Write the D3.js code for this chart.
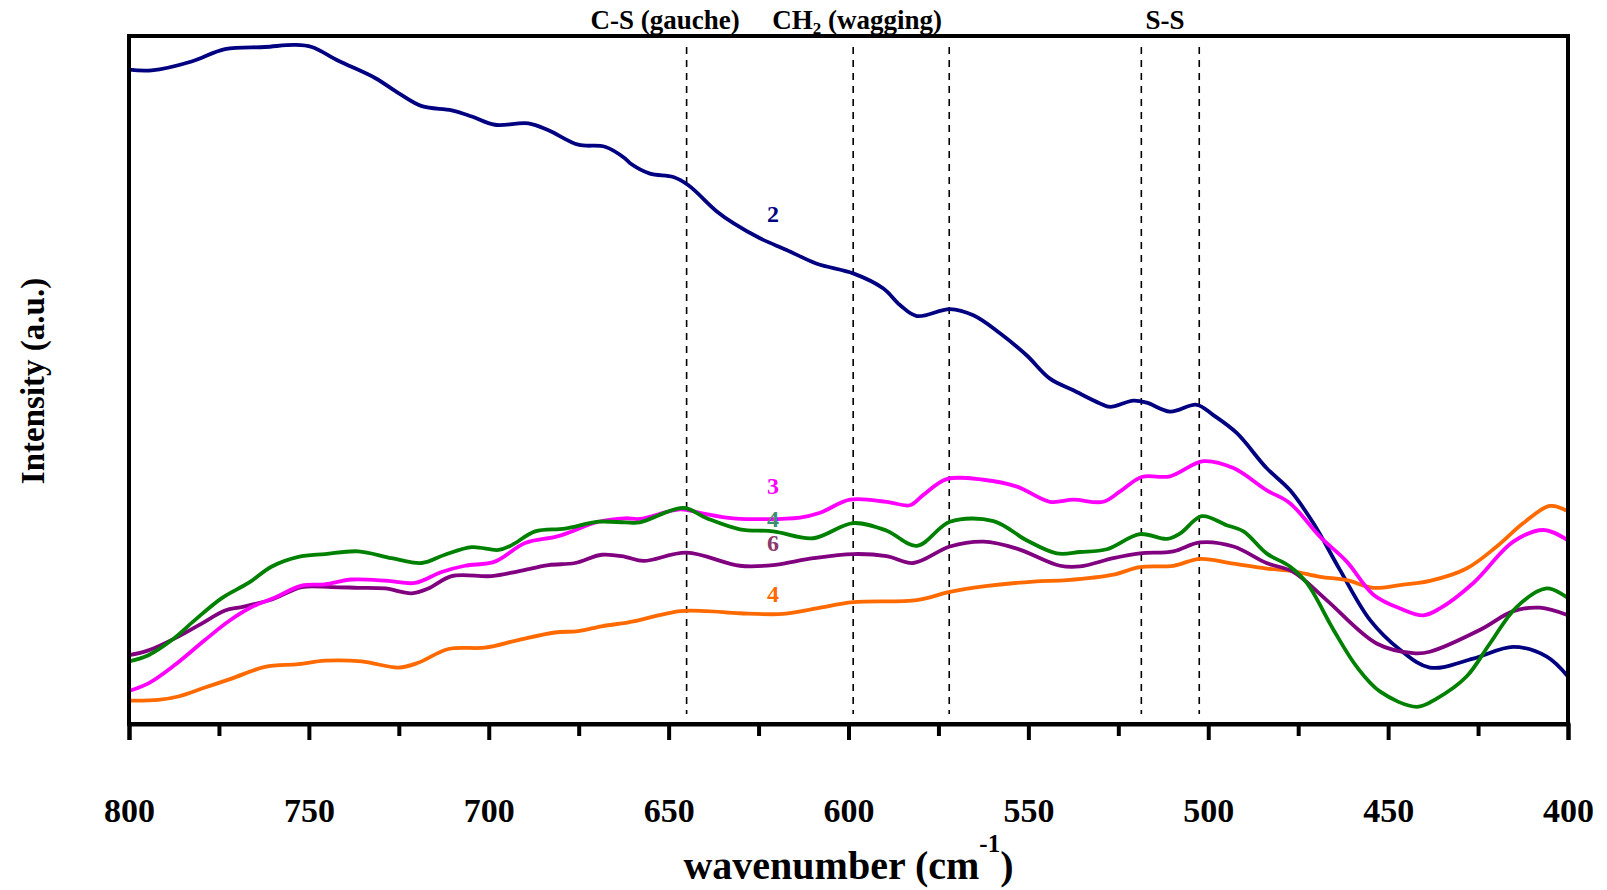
<!DOCTYPE html>
<html>
<head>
<meta charset="utf-8">
<script src="https://cdn.jsdelivr.net/npm/d3@7/dist/d3.min.js"></script>
<style>
  html, body { margin: 0; padding: 0; background: #fff; }
  svg { display: block; }
  text { font-family: "Liberation Serif", "Times New Roman", serif; font-weight: bold; }
</style>
</head>
<body>
<svg id="chart" width="1607" height="890"></svg>
<script>
// ---------------- DATA ----------------
// wavenumber (cm-1) and intensity (a.u., arbitrary 0-100 scale)
const s2_wn = [800,793.7,782.6,773.3,762.2,753.9,749.2,741.8,731.6,725.1,718.6,710.3,704.7,698.3,689.0,683.4,675.1,667.7,662.1,660.7,655.2,648.7,644.5,636.6,632.0,624.6,617.2,608.8,598.7,590.3,585.7,581.0,571.8,565.3,557.9,550.5,544.0,537.5,530.1,527.3,520.8,517.1,510.6,503.2,498.6,492.1,483.8,477.3,470.8,463.4,455.0,446.7,438.4,426.3,415.2,405.9,400];
const s2_int = [95.1,95.0,96.3,98.1,98.4,98.7,98.4,96.4,93.9,91.7,89.8,89.2,88.3,87.1,87.3,86.3,84.2,83.9,82.2,81.5,80.0,79.5,78.3,74.5,72.8,70.6,68.9,66.9,65.5,63.3,60.9,59.3,60.3,59.4,56.8,53.6,50.2,48.5,46.6,46.1,47.0,46.7,45.4,46.4,44.9,42.3,37.2,34.0,29.2,22.4,15.1,10.8,8.2,9.5,11.2,9.8,6.9];

const s3_wn = [800,794.6,787.2,778.9,772.4,765.9,759.4,752.0,745.5,738.1,727.9,720.5,713.1,706.6,698.3,689.9,680.7,669.5,662.1,658.0,646.8,641.3,632.0,613.5,607.9,599.6,589.4,582.9,579.2,572.7,562.5,553.2,544.0,537.5,529.2,524.5,518.5,510.6,501.4,493.0,483.8,477.3,468.9,461.5,454.1,446.7,440.2,435.6,426.3,415.2,406.8,400];
const s3_int = [4.8,5.9,8.6,12.2,14.9,17.0,18.4,20.1,20.3,21.0,20.8,20.5,22.1,23.0,23.6,26.3,27.3,29.4,29.9,29.8,31.2,30.7,29.9,30.0,30.7,32.6,32.3,31.8,33.3,35.6,35.5,34.5,32.3,32.6,32.3,33.8,35.9,36.0,38.2,37.2,34.0,32.1,27.2,23.6,18.8,16.8,15.8,16.8,20.5,26.5,28.2,26.7];

const s4g_wn = [800,794.6,788.1,781.7,774.2,766.8,760.3,752.9,745.5,736.3,727.0,718.6,712.2,704.7,697.3,693.6,687.1,678.8,669.5,662.1,658.0,645.9,639.4,630.2,620.9,609.8,598.7,589.4,581.0,571.8,559.7,550.5,542.1,535.6,528.2,519.0,511.5,507.8,501.8,494.9,490.2,483.8,477.3,472.6,465.2,458.7,452.2,442.0,436.5,428.2,421.7,414.3,405.9,400];
const s4g_int = [9.1,10.0,12.2,15.1,18.3,20.5,22.9,24.3,24.7,25.1,24.1,23.4,24.6,25.7,25.3,26.0,28.0,28.4,29.4,29.3,29.3,31.4,29.9,28.3,28.0,27.0,29.2,28.1,25.9,29.4,29.5,26.7,24.8,25.0,25.4,27.6,26.9,27.7,30.2,28.9,28.0,24.8,22.9,20.5,13.7,8.3,4.7,2.5,3.7,6.9,11.7,17.0,19.7,18.3];

const s6_wn = [800,794.6,786.3,779.8,773.3,768.7,760.3,752.0,743.7,736.3,728.8,721.4,716.8,710.3,699.2,691.8,683.4,676.0,668.6,662.1,657.0,645.0,630.2,620.9,609.8,598.7,589.4,582.0,571.8,562.5,553.2,541.2,535.6,526.4,519.0,509.7,502.3,493.0,483.8,476.4,467.1,453.2,443.0,438.4,424.4,415.2,407.8,400];
const s6_int = [10.0,10.7,12.7,14.6,16.5,17.0,18.1,19.9,19.9,19.8,19.7,19.0,19.7,21.5,21.5,22.2,23.1,23.4,24.6,24.3,23.7,24.9,23.0,23.1,24.1,24.7,24.4,23.4,25.8,26.5,25.5,23.0,22.9,24.1,24.8,25.1,26.4,25.8,23.4,22.1,18.0,11.7,10.3,10.5,13.7,16.4,16.9,15.8];

const s4o_wn = [800,791.9,786.3,778.9,771.5,762.2,752.9,745.5,735.3,725.1,719.6,711.2,701.0,691.8,681.6,675.1,668.6,662.1,659.8,646.8,639.4,630.2,618.1,608.8,598.7,581.0,571.8,562.5,548.6,539.3,526.4,519.0,509.7,502.3,493.0,483.8,476.4,468.9,461.5,454.1,446.7,438.4,428.2,419.8,412.4,405.0,400];
const s4o_int = [3.4,3.5,4.0,5.3,6.6,8.3,8.7,9.2,9.1,8.2,8.9,10.9,11.1,12.2,13.3,13.5,14.2,14.7,14.9,16.4,16.4,16.1,16.0,16.8,17.7,18.0,19.2,20.0,20.7,20.9,21.7,22.8,23.0,24.0,23.3,22.6,22.2,21.4,20.9,19.8,20.2,20.8,22.6,25.8,29.2,31.7,30.9];

const seriesNames  = ["2", "3", "4", "6", "4"];
const seriesColors = ["#000080", "#ff00ff", "#008000", "#800080", "#ff6a00"];
const labelColors  = ["#000080", "#ff00ff", "#3a9070", "#8b3a6b", "#ff6a00"];
const labelWn  = [621, 621, 621, 621, 621];
const labelInt = [74.2, 34.6, 29.8, 26.3, 18.9];

const bandPositions = [645, 598.7, 572, 518.6, 502.5];
const bandLabels = ["C-S (gauche)", "CH|2| (wagging)", "S-S"];
const bandLabelWn = [651, 597.6, 512];

const xMajorTicks = [800, 750, 700, 650, 600, 550, 500, 450, 400];
const xMinorTicks = [775, 725, 675, 625, 575, 525, 475, 425];

// ---------------- LAYOUT ----------------
const margin = {left: 129, top: 36, right: 1607 - 1568, bottom: 890 - 724};
const W = 1607, H = 890;
const iw = W - margin.left - margin.right;
const ih = H - margin.top - margin.bottom;

const svg = d3.select("#chart");
const g = svg.append("g").attr("transform", `translate(${margin.left},${margin.top})`);

const x = d3.scaleLinear().domain([800, 400]).range([0, iw]);
const y = d3.scaleLinear().domain([0, 100]).range([ih, 0]);

// dashed band lines
g.selectAll("line.band").data(bandPositions).enter().append("line")
  .attr("class", "band")
  .attr("x1", d => x(d)).attr("x2", d => x(d))
  .attr("y1", 11).attr("y2", ih - 10)
  .attr("stroke", "#000").attr("stroke-width", 1.6)
  .attr("stroke-dasharray", "7,6");

// curves
const seriesData = [
  d3.zip(s2_wn, s2_int),
  d3.zip(s3_wn, s3_int),
  d3.zip(s4g_wn, s4g_int),
  d3.zip(s6_wn, s6_int),
  d3.zip(s4o_wn, s4o_int)
];
const line = d3.line()
  .x(d => x(d[0])).y(d => y(d[1]))
  .curve(d3.curveCatmullRom.alpha(0.5));

const drawOrder = [0, 4, 3, 1, 2];
drawOrder.forEach(i => {
  g.append("path")
    .datum(seriesData[i])
    .attr("fill", "none")
    .attr("stroke", seriesColors[i])
    .attr("stroke-width", 3.8)
    .attr("stroke-linejoin", "round")
    .attr("stroke-linecap", "round")
    .attr("d", line);
});

// series labels
seriesNames.forEach((n, i) => {
  g.append("text")
    .attr("x", x(labelWn[i])).attr("y", y(labelInt[i]))
    .attr("text-anchor", "middle")
    .attr("dominant-baseline", "central")
    .attr("font-size", 24)
    .attr("fill", labelColors[i])
    .text(n);
});

// frame
g.append("rect")
  .attr("x", 0).attr("y", 0).attr("width", iw).attr("height", ih)
  .attr("fill", "none").attr("stroke", "#000").attr("stroke-width", 4);

// x axis
const xAxis = d3.axisBottom(x).tickValues(xMajorTicks).tickSize(16).tickPadding(58).tickFormat(d3.format("d"));
const ax = g.append("g").attr("transform", `translate(0,${ih})`).call(xAxis);
ax.select(".domain").attr("stroke-width", 4);
ax.selectAll(".tick line").attr("stroke-width", 4);
ax.selectAll(".tick text").attr("font-size", 34).attr("font-family", "Liberation Serif, Times New Roman, serif").attr("font-weight", "bold").attr("fill", "#000");

const xMinor = d3.axisBottom(x).tickValues(xMinorTicks).tickSize(12).tickFormat("");
const axm = g.append("g").attr("transform", `translate(0,${ih})`).call(xMinor);
axm.select(".domain").remove();
axm.selectAll(".tick line").attr("stroke-width", 4);

// band labels (top)
bandLabels.forEach((lab, i) => {
  const t = svg.append("text")
    .attr("x", margin.left + x(bandLabelWn[i]))
    .attr("y", 29)
    .attr("text-anchor", "middle")
    .attr("font-size", 27);
  const parts = lab.split("|");
  parts.forEach((p, k) => {
    const ts = t.append("tspan").text(p);
    if (k === 1) { ts.attr("font-size", 17).attr("dy", 5); }
    if (k === 2) { ts.attr("dy", -5); }
  });
});

// axis titles
const xt = svg.append("text")
  .attr("x", margin.left + iw / 2)
  .attr("y", 879)
  .attr("text-anchor", "middle")
  .attr("font-size", 40);
xt.append("tspan").text("wavenumber (cm");
xt.append("tspan").text("-1").attr("font-size", 25).attr("dy", -27);
xt.append("tspan").text(")").attr("dy", 27);

svg.append("text")
  .attr("transform", `translate(44,${381}) rotate(-90)`)
  .attr("text-anchor", "middle")
  .attr("font-size", 33)
  .text("Intensity (a.u.)");
</script>
</body>
</html>
